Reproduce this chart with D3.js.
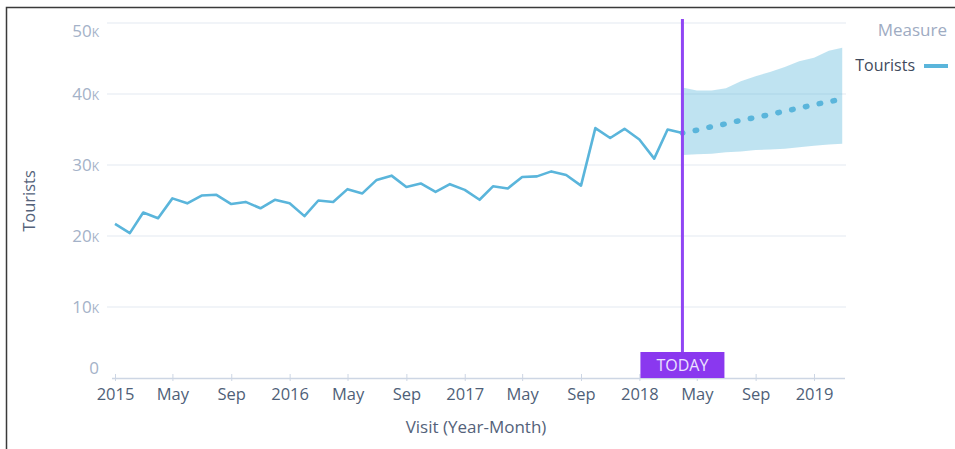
<!DOCTYPE html>
<html>
<head>
<meta charset="utf-8">
<script src="https://cdn.jsdelivr.net/npm/d3@7"></script>
<style>
  body { margin: 0; background: #fff; }
  svg { display: block; font-family: "Open Sans", sans-serif; }
</style>
</head>
<body>
<div id="chart"></div>
<script>
// monthly tourists, Jan 2015 .. Apr 2018 (actuals)
const seriesName = 'Tourists';
const actualStart = new Date(2015, 0, 1);
const actualValues = [
  21700, 20400, 23300, 22500, 25300, 24600, 25700, 25800, 24500, 24800, 23900, 25100,
  24600, 22800, 25000, 24800, 26600, 26000, 27900, 28500, 26900, 27400, 26200, 27300,
  26500, 25100, 27000, 26700, 28300, 28400, 29100, 28600, 27100, 35200, 33800, 35100,
  33600, 30900, 35000, 34500
];

// forecast Apr 2018 .. Mar 2019
const forecastStart = new Date(2018, 3, 1);
const forecastValues = [34500, 34900, 35400, 35800, 36300, 36700, 37100, 37600, 38000, 38500, 38900, 39300];
const forecastUpper  = [40900, 40500, 40500, 40800, 41800, 42500, 43100, 43800, 44600, 45100, 46100, 46500];
const forecastLower  = [31400, 31500, 31600, 31800, 31900, 32100, 32200, 32300, 32500, 32700, 32900, 33000];

const yTicks = [0, 10000, 20000, 30000, 40000, 50000];
const todayLabel = 'TODAY';
const xTitle = 'Visit (Year-Month)';
const legendTitle = 'Measure';

const width = 955, height = 449;
const plot = { left: 107, right: 846, top: 23, bottom: 378 };

const lineColor = '#5ab5db';
const purple = '#9046f4';

const actual = actualValues.map((v, i) => ({ date: d3.timeMonth.offset(actualStart, i), value: v }));
const forecast = forecastValues.map((v, i) => ({
  date: d3.timeMonth.offset(forecastStart, i),
  value: v, hi: forecastUpper[i], lo: forecastLower[i]
}));

const svg = d3.select('#chart').append('svg')
  .attr('width', width)
  .attr('height', height);

// frame
svg.append('path')
  .attr('d', `M6.5,${height} V7.5 H${width}`)
  .attr('fill', 'none')
  .attr('stroke', '#3a3a3a')
  .attr('stroke-width', 1.5);

const x = d3.scaleTime()
  .domain([new Date(2015, 0, 1), new Date(2019, 0, 1)])
  .range([115, 814]);

const y = d3.scaleLinear()
  .domain([0, 50000])
  .range([plot.bottom, plot.top]);

// grid
svg.append('g').attr('class', 'grid')
  .selectAll('line')
  .data(yTicks.filter(d => d > 0))
  .enter()
  .append('line')
  .attr('x1', plot.left)
  .attr('x2', plot.right)
  .attr('y1', d => y(d))
  .attr('y2', d => y(d))
  .attr('stroke', '#edf0f6')
  .attr('stroke-width', 1.5);

// y tick labels (clamped inside the plot like the original)
svg.append('g').attr('class', 'y-labels')
  .selectAll('text')
  .data(yTicks)
  .enter()
  .append('text')
  .attr('x', 99)
  .attr('y', d => Math.min(Math.max(y(d), plot.top + 8), plot.bottom - 10))
  .attr('dy', '0.36em')
  .attr('text-anchor', 'end')
  .attr('font-size', 17)
  .attr('fill', '#a4b2c8')
  .style('font-variant', 'small-caps')
  .text(d => d === 0 ? '0' : (d / 1000) + 'k');

// x axis
const xTicks = d3.timeMonth.range(new Date(2015, 0, 1), new Date(2019, 0, 2), 4);
const xAxis = d3.axisBottom(x)
  .tickValues(xTicks)
  .tickSize(3)
  .tickFormat(d => d.getMonth() === 0 ? d3.timeFormat('%Y')(d) : d3.timeFormat('%b')(d));

const gx = svg.append('g')
  .attr('transform', `translate(0,${plot.bottom})`)
  .call(xAxis);

gx.select('.domain')
  .attr('d', `M112,0.5H845`)
  .attr('stroke', '#cdd6e4')
  .attr('stroke-width', 1.5);
gx.selectAll('.tick line')
  .attr('y1', -4)
  .attr('y2', 3)
  .attr('stroke', '#cdd6e4');
gx.selectAll('.tick text')
  .attr('y', 22)
  .attr('dy', 0)
  .attr('font-family', '"Open Sans", sans-serif')
  .attr('font-size', 16.5)
  .attr('fill', '#4f5f78');

// axis titles
svg.append('text')
  .attr('x', 476)
  .attr('y', 433)
  .attr('text-anchor', 'middle')
  .attr('font-size', 17)
  .attr('fill', '#54627a')
  .text(xTitle);

svg.append('text')
  .attr('transform', 'translate(35,201) rotate(-90)')
  .attr('text-anchor', 'middle')
  .attr('font-size', 16.5)
  .attr('fill', '#54627a')
  .text(seriesName);

// forecast band
const area = d3.area()
  .x(d => x(d.date))
  .y0(d => y(d.lo))
  .y1(d => y(d.hi));

svg.append('path')
  .datum(forecast)
  .attr('d', area)
  .attr('fill', '#52b2d8')
  .attr('fill-opacity', 0.37);

// actual line
const line = d3.line()
  .x(d => x(d.date))
  .y(d => y(d.value));

svg.append('path')
  .datum(actual)
  .attr('d', line)
  .attr('fill', 'none')
  .attr('stroke', lineColor)
  .attr('stroke-width', 2.6)
  .attr('stroke-linejoin', 'round');

// forecast dotted line
svg.append('path')
  .datum(forecast)
  .attr('d', line)
  .attr('fill', 'none')
  .attr('stroke', lineColor)
  .attr('stroke-width', 5.5)
  .attr('stroke-linecap', 'round')
  .attr('stroke-dasharray', '1.5 12.6')
  .attr('stroke-dashoffset', -13);

// today marker
const todayX = x(actual[actual.length - 1].date);
svg.append('line')
  .attr('x1', todayX)
  .attr('x2', todayX)
  .attr('y1', 19)
  .attr('y2', 352)
  .attr('stroke', purple)
  .attr('stroke-width', 3);

svg.append('rect')
  .attr('x', todayX - 42)
  .attr('y', 352)
  .attr('width', 84)
  .attr('height', 26)
  .attr('fill', '#8a38ef');

svg.append('text')
  .attr('x', todayX)
  .attr('y', 371)
  .attr('text-anchor', 'middle')
  .attr('font-size', 16)
  .attr('fill', '#ece2ff')
  .text(todayLabel);

// legend
svg.append('text')
  .attr('x', 947)
  .attr('y', 36)
  .attr('text-anchor', 'end')
  .attr('font-size', 17)
  .attr('fill', '#9eabc2')
  .text(legendTitle);

svg.append('text')
  .attr('x', 915)
  .attr('y', 71)
  .attr('text-anchor', 'end')
  .attr('font-size', 16)
  .attr('fill', '#3f4a5c')
  .text(seriesName);

svg.append('line')
  .attr('x1', 924)
  .attr('x2', 948)
  .attr('y1', 66)
  .attr('y2', 66)
  .attr('stroke', lineColor)
  .attr('stroke-width', 4);
</script>
</body>
</html>
